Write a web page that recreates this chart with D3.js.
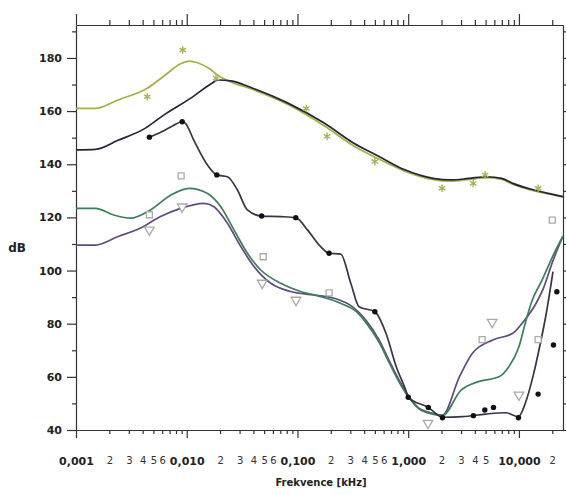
<!DOCTYPE html>
<html>
<head>
<meta charset="utf-8">
<script src="https://cdn.jsdelivr.net/npm/d3@7"></script>
<style>
  body { margin: 0; background: #fff; }
  text { font-family: "DejaVu Sans", sans-serif; fill: #222; }
</style>
</head>
<body>
<svg width="567" height="495"></svg>
<script>
// frequency in kHz, level in dB
var majorTicks = [0.001, 0.01, 0.1, 1, 10];
var majorLabels = ["0,001", "0,010", "0,100", "1,000", "10,000"];
var minorShown = [[2, 3, 4, 5, 6], [2, 3, 4, 5, 6], [2, 3, 4, 5, 6], [2, 3, 4, 5], [2]];
var yLabels = [40, 60, 80, 100, 120, 140, 160, 180];
var yMinor = [50, 70, 90, 110, 130, 150, 170, 190];

var olive = [[0.001,161],[0.0015,161],[0.0024,164.2],[0.0044,168.6],[0.0064,173.6],[0.0088,177.8],[0.0106,178.8],
  [0.0125,178.2],[0.0158,176.1],[0.0198,173],[0.025,171],[0.039,168.2],[0.082,162.5],[0.174,154.5],[0.32,147],[0.54,142],
  [0.92,137.5],[1.68,134.2],[2.44,133.6],[3.55,134.3],[5.16,135],[7.0,134.3],[8.8,132.5],[13.7,130],[21.7,128.2],[25,127.6]];

var dark = [[0.001,145.4],[0.0015,145.6],[0.0024,149],[0.0042,153.5],[0.0062,158.5],[0.0108,164.8],[0.0169,170.5],
  [0.0191,171.7],[0.025,171.4],[0.039,168.7],[0.082,163],[0.174,155.5],[0.32,148],[0.54,143],[0.92,138],
  [1.68,134.7],[2.44,134.1],[3.55,134.7],[5.16,135.3],[7.0,134.7],[8.8,132.8],[13.7,130.3],[21.7,128.4],[25,127.8]];

var blackLine = [[0.0046,150.2],[0.006,152.3],[0.0075,154.5],[0.0091,156],[0.0097,155.5],[0.0116,149],[0.0154,139.7],
  [0.0187,136],[0.0233,135.3],[0.0287,130.3],[0.0353,122.8],[0.0475,120.5],[0.0707,120.3],[0.0966,119.9],
  [0.123,115.3],[0.162,109],[0.193,106.5],[0.246,106.2],[0.303,95.2],[0.36,86.4],[0.5,84.5],[0.63,76.4],
  [0.78,63.8],[0.95,55],[1.0,52.3],[1.52,48.5],[2.04,44.8],[3.09,45],[5.0,46],[7.6,46.5],[9.9,45],[11.4,50],
  [13.6,61.3],[15.5,72],[17.5,83],[20.3,99.6]];

var teal = [[0.001,123.4],[0.0015,123.4],[0.0022,120.9],[0.0031,119.7],[0.0047,122.8],[0.0072,128.4],[0.0105,130.9],
  [0.0154,129],[0.0203,124],[0.0267,115.3],[0.0353,106.5],[0.0466,100.2],[0.0707,95.2],[0.107,92.1],[0.162,90.2],
  [0.245,87.7],[0.34,84.5],[0.414,80.5],[0.546,73],[0.67,65.5],[0.828,58],[1.02,52],[1.25,48],[1.66,46],
  [2.04,45.5],[3.0,55],[4.3,58.2],[6.6,60],[8.1,63.8],[10,71.3],[11.4,80.2],[13.2,88.9],[16,96],[20,105],[25,113]];

var purple = [[0.001,109.6],[0.0015,109.6],[0.0024,112.8],[0.0038,115.9],[0.0058,120.3],[0.0088,123.4],[0.0143,125.3],
  [0.0176,124],[0.0233,117.8],[0.0308,109],[0.0405,101.5],[0.0574,95.2],[0.0869,92.1],[0.141,90.8],[0.214,89.6],
  [0.313,86.4],[0.414,81.4],[0.546,73.9],[0.67,66.3],[0.828,58.8],[1.02,52.5],[1.25,48.2],[1.66,46.3],
  [2.04,45.6],[2.9,60],[3.8,68.9],[5.8,73.9],[8.8,76.4],[10.7,80.2],[14.3,87.7],[16.4,92.7],[20,103],[25,113]];

var blackDots = [[0.0046,150.2],[0.0091,156],[0.0187,136],[0.0475,120.5],[0.0966,119.9],[0.193,106.5],[0.5,84.5],
  [1.0,52.3],[1.52,48.5],[2.04,44.6],[3.88,45.4],[4.92,47.5],[5.89,48.5],[9.9,44.6],[14.9,53.5],[20.5,72],[22,92]];
var oliveStars = [[0.0044,165.4],[0.0092,183],[0.0184,172.4],[0.12,161],[0.185,150.5],[0.5,141],[2.02,131],
  [3.86,132.8],[4.95,136],[14.9,131]];
var graySquares = [[0.0046,121],[0.0089,135.6],[0.049,105.2],[0.193,91.6],[4.65,74],[14.9,74],[20,119]];
var grayTriangles = [[0.0046,115.3],[0.0091,124],[0.048,95.3],[0.097,88.9],[1.51,42.6],[5.73,80.6],[10,53.2]];

var svg = d3.select("svg");

var x = d3.scaleLog().domain([0.001, 25]).range([76, 563]),
    y = d3.scaleLinear().domain([40, 192.4]).range([430, 25]);

var minorTicks = [];
majorTicks.forEach(function(d) {
  for (var k = 2; k <= 9; k++) if (k * d <= 25) minorTicks.push(k * d);
});

function minorLabel(d) {
  var i = Math.floor(Math.log10(d) + 1e-9) + 3,
      k = Math.round(d / Math.pow(10, i - 3));
  return minorShown[i].indexOf(k) >= 0 ? String(k) : "";
}

// bottom axis
svg.append("g")
    .attr("transform", "translate(0,430)")
    .call(d3.axisBottom(x).tickValues(minorTicks).tickSize(4).tickPadding(23).tickFormat(minorLabel))
    .call(function(g) { g.select(".domain").remove(); })
    .selectAll("text").style("font-size", "10px").style("fill", "#333");

svg.append("g")
    .attr("transform", "translate(0,430)")
    .call(d3.axisBottom(x).tickValues(majorTicks).tickSizeInner(8).tickSizeOuter(0).tickPadding(19)
      .tickFormat(function(d, i) { return majorLabels[i]; }))
    .selectAll("text").style("font-size", "11px").style("font-weight", "bold");

// top axis
svg.append("g")
    .attr("transform", "translate(0,25)")
    .call(d3.axisTop(x).tickValues(minorTicks).tickSize(5).tickFormat(""))
    .call(function(g) { g.select(".domain").remove(); });

svg.append("g")
    .attr("transform", "translate(0,25)")
    .call(d3.axisTop(x).tickValues(majorTicks).tickSizeInner(11).tickSizeOuter(0).tickFormat(""));

// left axis
svg.append("g")
    .attr("transform", "translate(76,0)")
    .call(d3.axisLeft(y).tickValues(yMinor).tickSize(4).tickFormat(""))
    .call(function(g) { g.select(".domain").remove(); });

svg.append("g")
    .attr("transform", "translate(76,0)")
    .call(d3.axisLeft(y).tickValues(yLabels).tickSizeInner(9).tickSizeOuter(0).tickPadding(5))
    .selectAll("text").style("font-size", "11px").style("font-weight", "bold");

// right axis
svg.append("g")
    .attr("transform", "translate(563,0)")
    .call(d3.axisRight(y).tickValues(yLabels.concat(yMinor)).tickSizeInner(3).tickSizeOuter(0).tickFormat(""));

svg.selectAll(".domain, .tick line").attr("stroke", "#333").attr("stroke-width", 1.2);

svg.append("text")
    .attr("x", 17).attr("y", 252)
    .attr("text-anchor", "middle")
    .style("font-size", "12px").style("font-weight", "bold")
    .text("dB");

svg.append("text")
    .attr("x", 321).attr("y", 486)
    .attr("text-anchor", "middle")
    .style("font-size", "10px").style("font-weight", "bold")
    .text("Frekvence [kHz]");

var line = d3.line()
    .x(function(d) { return x(d[0]); })
    .y(function(d) { return y(d[1]); })
    .curve(d3.curveMonotoneX);

var series = [
  {data: olive, color: "#a3b044"},
  {data: dark, color: "#23243a"},
  {data: purple, color: "#5f4c7a"},
  {data: teal, color: "#3f7d5c"},
  {data: blackLine, color: "#3a3344"}
];

svg.append("g").selectAll("path")
    .data(series)
    .enter().append("path")
      .attr("d", function(s) { return line(s.data); })
      .attr("fill", "none")
      .attr("stroke", function(s) { return s.color; })
      .attr("stroke-width", 1.7);

svg.append("g").selectAll("path")
    .data(oliveStars)
    .enter().append("path")
      .attr("transform", function(d) { return "translate(" + x(d[0]) + "," + y(d[1]) + ")"; })
      .attr("d", d3.symbol().type(d3.symbolAsterisk).size(40))
      .attr("fill", "none")
      .attr("stroke", "#a9b25a")
      .attr("stroke-width", 1.4);

svg.append("g").selectAll("path")
    .data(graySquares)
    .enter().append("path")
      .attr("transform", function(d) { return "translate(" + x(d[0]) + "," + y(d[1]) + ")"; })
      .attr("d", d3.symbol().type(d3.symbolSquare).size(36))
      .attr("fill", "#fff")
      .attr("stroke", "#aaa")
      .attr("stroke-width", 1.3);

svg.append("g").selectAll("path")
    .data(grayTriangles)
    .enter().append("path")
      .attr("transform", function(d) { return "translate(" + x(d[0]) + "," + y(d[1]) + ") rotate(180)"; })
      .attr("d", d3.symbol().type(d3.symbolTriangle).size(40))
      .attr("fill", "#fff")
      .attr("stroke", "#aaa")
      .attr("stroke-width", 1.3);

svg.append("g").selectAll("circle")
    .data(blackDots)
    .enter().append("circle")
      .attr("cx", function(d) { return x(d[0]); })
      .attr("cy", function(d) { return y(d[1]); })
      .attr("r", 2.7)
      .attr("fill", "#111");
</script>
</body>
</html>
